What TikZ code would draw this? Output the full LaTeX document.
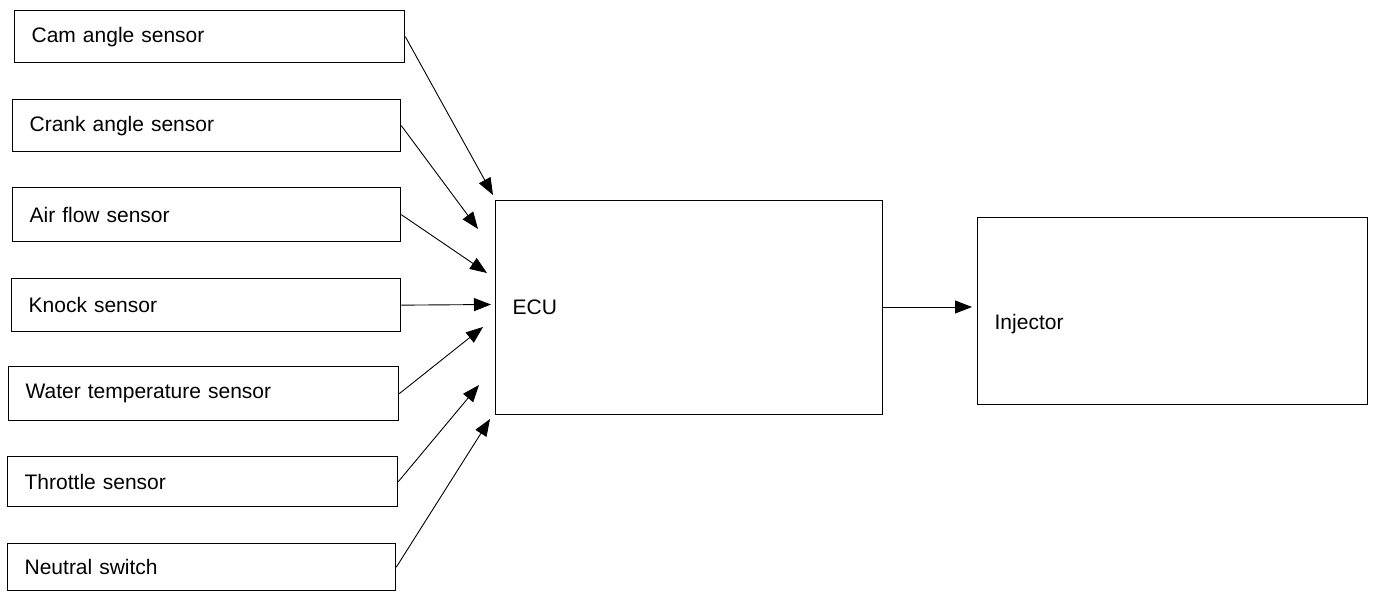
\documentclass[tikz,border=0pt]{standalone}
\usepackage{fontspec}
\setmainfont{Liberation Sans}
\usetikzlibrary{arrows.meta}
\begin{document}
\begin{tikzpicture}[x=1pt,y=-1pt,
  sbox/.style={draw, line width=1.3pt, rectangle, anchor=north west, inner xsep=17pt,
    align=left, font=\fontsize{21}{24}\selectfont},
  conn/.style={line width=0.9pt, -{Triangle[length=17pt,width=13pt]}}]
\useasboundingbox (0,0) rectangle (1374,601);
\fill[white] (0,0) rectangle (1374,601);
\node[sbox, minimum width=390pt, minimum height=52pt, text width=356pt] (cam) at (14,10) {Cam angle sensor};
\node[sbox, minimum width=388pt, minimum height=52pt, text width=354pt] (crank) at (12,99) {Crank angle sensor};
\node[sbox, minimum width=388pt, minimum height=54pt, text width=354pt] (air) at (12,187) {Air flow sensor};
\node[sbox, minimum width=389pt, minimum height=53pt, text width=355pt] (knock) at (11,278) {Knock sensor};
\node[sbox, minimum width=390pt, minimum height=54pt, text width=356pt] (water) at (8,366) {Water temperature sensor};
\node[sbox, minimum width=390pt, minimum height=50pt, text width=356pt] (throttle) at (7,456) {Throttle sensor};
\node[sbox, minimum width=388pt, minimum height=47pt, text width=354pt] (neutral) at (7,543) {Neutral switch};
\node[sbox, minimum width=387pt, minimum height=214pt, text width=353pt] (ecu) at (495,200) {ECU};
\node[sbox, minimum width=390pt, minimum height=187pt, text width=356pt] (inj) at (977,217) {\raisebox{-18pt}[0pt][0pt]{Injector}};
\coordinate (t1) at (493,195);
\coordinate (t2) at (478,229);
\coordinate (t3) at (487,273);
\coordinate (t4) at (491,304.5);
\coordinate (t5) at (483,327);
\coordinate (t6) at (479,385);
\coordinate (t7) at (490,419);
\coordinate (t8) at (972,307);
\draw[conn] (cam.east) -- (t1);
\draw[conn] (crank.east) -- (t2);
\draw[conn] (air.east) -- (t3);
\draw[conn] (knock.east) -- (t4);
\draw[conn] (water.east) -- (t5);
\draw[conn] (throttle.east) -- (t6);
\draw[conn] (neutral.east) -- (t7);
\draw[conn] (ecu.east |- t8) -- (t8);
\end{tikzpicture}
\end{document}
